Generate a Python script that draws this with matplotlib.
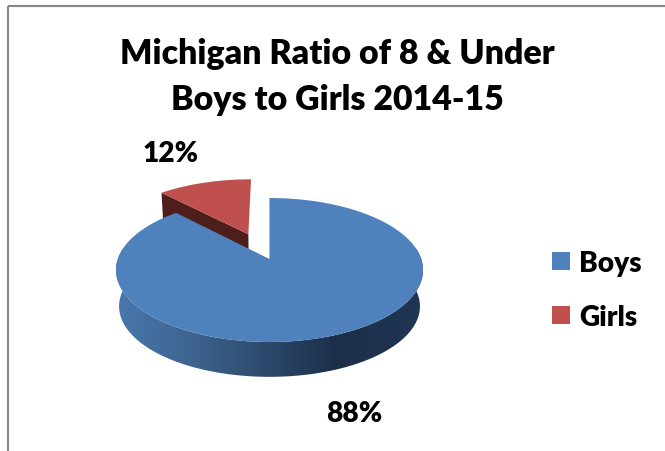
import numpy as np
import matplotlib
matplotlib.use("Agg")
import matplotlib.pyplot as plt
from matplotlib.colors import LinearSegmentedColormap
from matplotlib.patches import Patch, Polygon, Rectangle

title = "Michigan Ratio of 8 & Under\nBoys to Girls 2014-15"
labels = ["Boys", "Girls"]
values = [88, 12]
colors = ["#4f81bd", "#c0504d"]

plt.rcParams["font.family"] = ["Lato", "DejaVu Sans"]
plt.rcParams["font.weight"] = "heavy"

# pie geometry in pixels, k gives the perspective tilt
cx, cy = 269.5, 260
a, b, k = 151.7, 70.3, 0.153
depth, shrink = 36.5, 0.98
explode = 0.40


def project(x, y, lower=False):
    d = 1 + k * y
    px, py = a * x / d, b * y / d
    if lower:
        px, py = px * shrink, py * shrink - depth
    return cx + px, cy - py


def arc(t1, t2, off=(0, 0), lower=False):
    t = np.radians(np.linspace(t1, t2, 240))
    return np.column_stack(project(off[0] + np.cos(t), off[1] + np.sin(t), lower))


fig = plt.figure(figsize=(6.65, 4.52), dpi=100)
ax = fig.add_axes([0, 0, 1, 1])
ax.set_xlim(0, 665)
ax.set_ylim(452, 0)
ax.axis("off")

ax.add_patch(Rectangle((8, 7), 700, 500, fill=False, ec="#868686", lw=1.5))

# boys start at 12 o'clock and go clockwise
boys_sweep = values[0] / sum(values) * 360
cut = 90 - boys_sweep + 360
mid = (90 + cut) / 2
off = (explode * np.cos(np.radians(mid)), explode * np.sin(np.radians(mid)))

# girls slice, pulled out, with its dark cut face
tip = np.array(project(off[0], off[1]))
tip_low = np.array(project(off[0], off[1], True))
outer = np.array(project(off[0] + np.cos(np.radians(cut)), off[1] + np.sin(np.radians(cut))))
outer_low = np.array(project(off[0] + np.cos(np.radians(cut)), off[1] + np.sin(np.radians(cut)), True))
ax.add_patch(Polygon([tip, outer, outer_low, tip_low], fc="#4d1e1b", ec="none"))
ax.add_patch(Polygon(np.vstack([[tip], arc(90, cut, off)]), fc=colors[1], ec="none"))

# rim of the boys slice with the left to right shading
rim = np.vstack([arc(165, 375), arc(165, 375, lower=True)[::-1]])
rim_patch = Polygon(rim, fc="none", ec="none")
ax.add_patch(rim_patch)
shade = LinearSegmentedColormap.from_list(
    "rim", [(0, "#4a78ae"), (0.25, "#3d648f"), (0.72, "#1c2f49"), (1, "#1f3654")]
)
img = ax.imshow(
    np.linspace(0, 1, 256)[None, :], cmap=shade, aspect="auto",
    extent=(115, 424, 385, 250), zorder=1,
)
ax.set_xlim(0, 665)
ax.set_ylim(452, 0)
img.set_clip_path(rim_patch)

top = np.vstack([[project(0, 0)], arc(90, 90 - boys_sweep)])
ax.add_patch(Polygon(top, fc=colors[0], ec="none", zorder=2))

ax.text(337, 77, title, ha="center", va="center", fontsize=24.4, linespacing=1.55)
ax.text(171, 154, f"{values[1]}%", ha="center", va="center", fontsize=20.2)
ax.text(354, 414, f"{values[0]}%", ha="center", va="center", fontsize=20.2)

handles = [Patch(fc=c, ec="none") for c in colors]
fs = 20.2
leg = ax.legend(
    handles, labels, loc="center left", bbox_to_anchor=(552, 291),
    bbox_transform=ax.transData, frameon=False, fontsize=fs, borderpad=0,
    borderaxespad=0, handlelength=18 * 0.72 / fs, handleheight=18 * 0.72 / fs,
    handletextpad=9 * 0.72 / fs, labelspacing=1.0,
)

fig.savefig("out.png", dpi=100)
